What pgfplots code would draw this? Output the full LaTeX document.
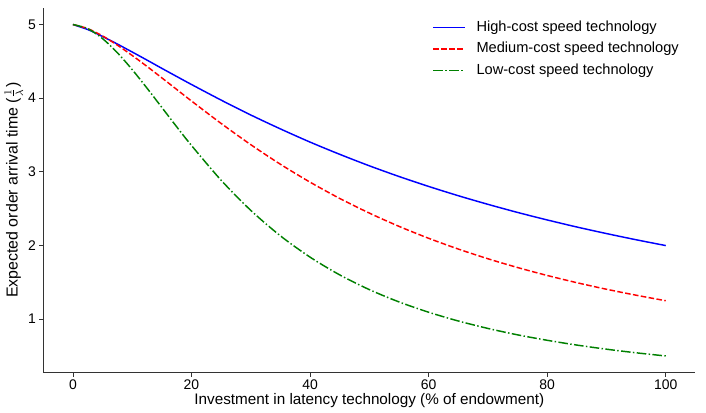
\documentclass[border=0pt]{standalone}
\usepackage{fontspec}
\setmainfont{Liberation Sans}
\usepackage{pgfplots}
\pgfplotsset{compat=1.18}
\usepackage{pgfplotstable}

% x = investment (% of endowment), hi / med / lo = expected arrival time
\pgfplotstableread{
x     hi     med    lo
0     5.000  5.000  5.000
2.5   4.932  4.945  4.944
5     4.838  4.845  4.809
7.5   4.735  4.720  4.617
10    4.627  4.580  4.388
12.5  4.517  4.431  4.136
15    4.405  4.276  3.874
17.5  4.295  4.119  3.612
20    4.186  3.962  3.358
25    3.974  3.657  2.886
30    3.772  3.369  2.477
35    3.583  3.103  2.131
40    3.404  2.860  1.842
45    3.238  2.639  1.601
50    3.082  2.440  1.401
55    2.937  2.260  1.234
60    2.802  2.098  1.094
65    2.676  1.952  0.975
70    2.559  1.820  0.874
75    2.449  1.701  0.787
80    2.347  1.593  0.713
85    2.251  1.495  0.648
90    2.162  1.406  0.592
95    2.078  1.325  0.543
100   1.999  1.250  0.500
}\arrival

\definecolor{mplblue}{RGB}{0,0,255}
\definecolor{mplred}{RGB}{255,0,0}
\definecolor{mplgreen}{RGB}{0,128,0}

\tikzset{
    hiline/.style={draw=mplblue, line width=1.1pt},
    medline/.style={draw=mplred, line width=1.1pt, dash pattern=on 4.2pt off 1.8pt},
    loline/.style={draw=mplgreen, line width=1.1pt, dash pattern=on 7.2pt off 1.8pt on 1.1pt off 1.8pt},
    legtext/.style={anchor=mid west, inner sep=0pt, font=\fontsize{11}{13}\selectfont},
}

\begin{document}
\begin{tikzpicture}
\begin{axis}[
    scale only axis,
    width=491pt,
    height=274.5pt,
    xmin=-5, xmax=105,
    ymin=0.275, ymax=5.225,
    xtick={0,20,40,60,80,100},
    ytick={1,2,3,4,5},
    axis x line*=bottom,
    axis y line*=left,
    axis line style={-, draw=black!80, line width=0.8pt},
    tick style={draw=black!80, line width=0.6pt},
    major tick length=3pt,
    tick align=outside,
    tick label style={font=\fontsize{10.5}{12}\selectfont},
    xticklabel style={yshift=1pt},
    yticklabel style={xshift=1pt},
    /pgf/number format/assume math mode=true,
    xlabel={Investment in latency technology (\% of endowment)},
    ylabel={Expected order arrival time ($\frac{1}{\lambda}$)},
    xlabel style={font=\fontsize{11.5}{13}\selectfont, yshift=4pt},
    ylabel style={font=\fontsize{12}{14}\selectfont, yshift=-3pt},
]
\addplot[hiline, smooth] table[x=x, y=hi] {\arrival};
\addplot[medline, smooth] table[x=x, y=med] {\arrival};
\addplot[loline, smooth] table[x=x, y=lo] {\arrival};

% legend keys, plotted as short segments in data space
\addplot[hiline] coordinates {(60.8,4.958) (66.1,4.958)};
\addplot[medline] coordinates {(60.8,4.666) (66.1,4.666)};
\addplot[loline] coordinates {(60.8,4.374) (66.1,4.374)};
\node[legtext] at (axis description cs:0.664,0.946) {High-cost speed technology};
\node[legtext] at (axis description cs:0.664,0.887) {Medium-cost speed technology};
\node[legtext] at (axis description cs:0.664,0.828) {Low-cost speed technology};
\end{axis}
\path (current axis.north east) ++(8pt,6pt);
\end{tikzpicture}
\end{document}
